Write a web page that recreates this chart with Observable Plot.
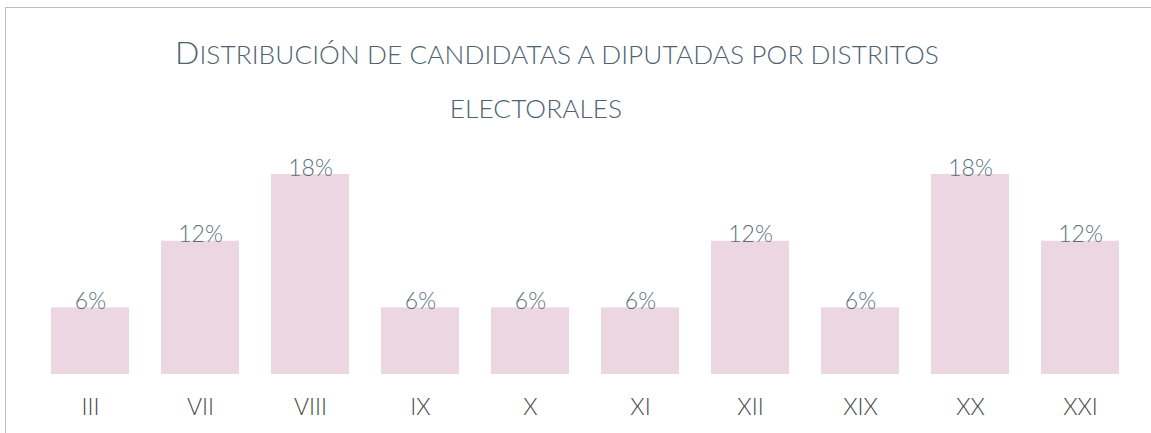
<!DOCTYPE html>
<html>
<head>
<meta charset="utf-8">
<script src="https://cdn.jsdelivr.net/npm/d3@7"></script>
<script src="https://cdn.jsdelivr.net/npm/@observablehq/plot@0.6"></script>
<style>
  html, body { margin: 0; padding: 0; background: #fff; width: 1151px; height: 433px; overflow: hidden; }
  #frame { position: absolute; left: 5px; top: 7px; width: 1300px; height: 600px; border: 1px solid #bdbdbd; box-sizing: border-box; }
  .title { position: absolute; font-family: Lato, "Open Sans", sans-serif; font-weight: 300; color: #4e6271; white-space: nowrap; transform: translateX(-50%); line-height: 1; }
  .big { font-size: 32px; }
  .small { font-size: 26.2px; letter-spacing: 0.1px; }
  #chart { position: absolute; left: 0; top: 0; }
</style>
</head>
<body>
<div id="frame"></div>
<div class="title" id="t1" style="left:557px; top:36px;"><span class="big">D</span><span class="small">ISTRIBUCIÓN DE CANDIDATAS A DIPUTADAS POR DISTRITOS</span></div>
<div class="title" id="t2" style="left:536px; top:95px;"><span class="small">ELECTORALES</span></div>
<div id="chart"></div>
<script>
const districts = ["III", "VII", "VIII", "IX", "X", "XI", "XII", "XIX", "XX", "XXI"];
const shares = [0.0588, 0.1176, 0.1765, 0.0588, 0.0588, 0.0588, 0.1176, 0.0588, 0.1765, 0.1176];
const labels = ["6%", "12%", "18%", "6%", "6%", "6%", "12%", "6%", "18%", "12%"];

const data = districts.map((d, i) => ({district: d, share: shares[i], label: labels[i]}));

const chart = Plot.plot({
  width: 1151,
  height: 433,
  marginTop: 0,
  marginBottom: 59,
  marginLeft: 19,
  marginRight: 0,
  style: {fontFamily: "Lato, 'Open Sans', sans-serif", fontWeight: 300, background: "transparent", overflow: "visible"},
  x: {domain: districts, range: [19, 1151], padding: 0.29, label: null},
  y: {domain: [0, 0.1765], range: [374, 174], axis: null},
  marks: [
    Plot.barY(data, {x: "district", y: "share", fill: "#ecd6e1"}),
    Plot.text(data, {x: "district", y: "share", text: "label", lineAnchor: "bottom", dy: 1, fill: "#5b707e", fontSize: 23, fontWeight: 300}),
    Plot.axisX({tickSize: 0, tickPadding: 24, fontSize: 23, fontWeight: 300, color: "#4a4a4a", label: null})
  ]
});
document.getElementById("chart").appendChild(chart);
</script>
</body>
</html>
